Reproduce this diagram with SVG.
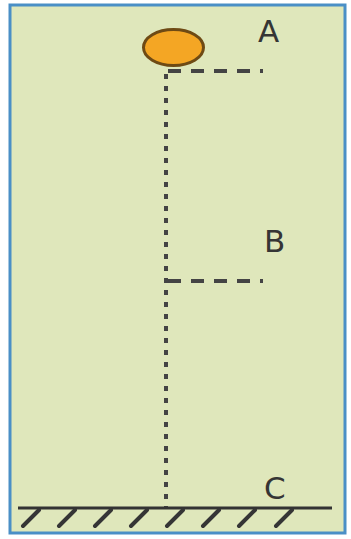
<svg xmlns="http://www.w3.org/2000/svg" width="351" height="539" viewBox="0 0 351 539">
<style>
.lbl{font-family:"DejaVu Sans","Liberation Sans",sans-serif;font-size:31px;fill:#353535}
.dot{stroke:#444;stroke-width:4;fill:none}
.hatch{stroke:#353535;stroke-width:4;fill:none;stroke-linecap:round}
</style>
<rect x="0" y="0" width="351" height="539" fill="#ffffff"/>
<rect x="10" y="5" width="335" height="528" fill="#dfe7bb" stroke="#4a8fc6" stroke-width="3"/>
<g id="connectors">
<line class="dot" x1="166" y1="74" x2="166" y2="508" stroke-dasharray="5 7"/>
<line class="dot" x1="168" y1="71" x2="263" y2="71" stroke-width="3" stroke-dasharray="13 10"/>
<line class="dot" x1="168" y1="281" x2="263" y2="281" stroke-width="3" stroke-dasharray="13 10"/>
</g>
<g id="ball">
<ellipse cx="173.5" cy="47.5" rx="30" ry="18" fill="#f4a624" stroke="#6e4a14" stroke-width="3"/>
</g>
<g id="A"><text class="lbl" x="258" y="42">A</text></g>
<g id="B"><text class="lbl" x="264" y="252">B</text></g>
<g id="C"><text class="lbl" x="264" y="499">C</text></g>
<g id="ground">
<line x1="18" y1="508" x2="332" y2="508" stroke="#333" stroke-width="3"/>
<g class="hatch">
<line x1="23" y1="526" x2="39" y2="510"/>
<line x1="59" y1="526" x2="75" y2="510"/>
<line x1="95" y1="526" x2="111" y2="510"/>
<line x1="131" y1="526" x2="147" y2="510"/>
<line x1="167" y1="526" x2="183" y2="510"/>
<line x1="203" y1="526" x2="219" y2="510"/>
<line x1="239" y1="526" x2="255" y2="510"/>
<line x1="276" y1="526" x2="292" y2="510"/>
</g>
</g>
</svg>
